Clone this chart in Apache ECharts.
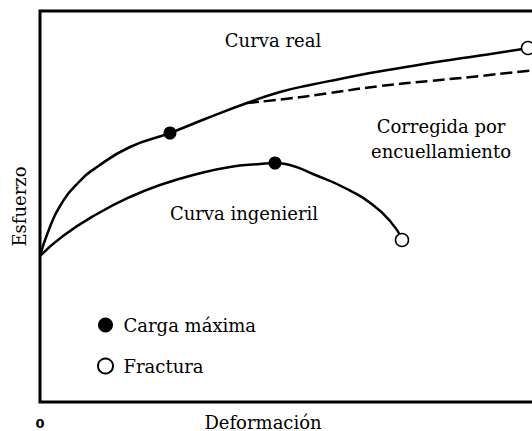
<!DOCTYPE html>
<html>
<head>
<meta charset="utf-8">
<script src="https://cdn.jsdelivr.net/npm/echarts@6/dist/echarts.min.js"></script>
<style>
  html, body { margin: 0; padding: 0; background: #fff; }
  #chart { width: 532px; height: 431px; }
</style>
</head>
<body>
<div id="chart"></div>
<script>
// valores (deformación, esfuerzo) en unidades arbitrarias
const curvaReal = [[0, 146], [8, 170], [20, 196], [38, 219], [57, 235], [90, 255], [130, 269], [165, 283], [207, 299], [240, 310], [270, 317], [300, 323], [330, 329], [360, 334], [390, 339], [423, 344], [457, 349], [488, 354]]
const curvaCorregida = [[207, 299], [245, 303], [290, 309], [340, 316], [390, 321], [440, 326], [495, 332]]
const curvaIngenieril = [[0, 146], [23, 166], [57, 188], [90, 205], [123, 218], [157, 228], [190, 235], [220, 238], [235, 239], [250, 237], [273, 228], [307, 213], [333, 197], [350, 181], [362, 164]]
const cargaMaxima = [[130, 269], [235, 239]]
const fractura = [[488, 354], [362, 162]]
const xTicks = [0]
const notas = [
  { name: 'Curva real', value: [233, 362] },
  { name: 'Corregida por\nencuellamiento', value: [401, 263] },
  { name: 'Curva ingenieril', value: [204, 189] }
]

const serif = 'DejaVu Serif'
const chart = echarts.init(document.getElementById('chart'), null, { renderer: 'svg' })

const lineBase = {
  type: 'line',
  smooth: true,
  showSymbol: false,
  silent: true,
  z: 2
}

chart.setOption({
  animation: false,
  backgroundColor: '#fff',
  textStyle: { fontFamily: serif, color: '#000' },
  grid: {
    left: 40,
    top: 11,
    right: -8,
    bottom: 29,
    outerBoundsMode: 'none',
    containLabel: false,
    show: true,
    borderColor: '#000',
    borderWidth: 3
  },
  legend: {
    data: ['Carga máxima', 'Fractura'],
    orient: 'vertical',
    left: 92,
    top: 311,
    itemWidth: 26,
    itemHeight: 15,
    itemGap: 23,
    itemStyle: { opacity: 1 },
    textStyle: { fontFamily: serif, fontSize: 18, color: '#000' }
  },
  xAxis: {
    type: 'value',
    min: 0,
    max: 500,
    interval: 500,
    name: 'Deformación',
    nameLocation: 'middle',
    nameGap: 11,
    nameMoveOverlap: false,
    nameTextStyle: { fontFamily: serif, fontSize: 18, color: '#000', padding: [0, 54, 0, 0] },
    axisLine: { show: false },
    axisTick: { show: false },
    splitLine: { show: false },
    axisLabel: {
      showMaxLabel: false,
      formatter: v => (xTicks.includes(v) ? String(v) : ''),
      margin: 15,
      fontFamily: 'DejaVu Sans',
      fontWeight: 'bold',
      fontSize: 13,
      color: '#000'
    }
  },
  yAxis: {
    type: 'value',
    min: 0,
    max: 391,
    name: 'Esfuerzo',
    nameLocation: 'middle',
    nameGap: 12,
    nameTextStyle: { fontFamily: serif, fontSize: 18, color: '#000' },
    axisLine: { show: false },
    axisTick: { show: false },
    splitLine: { show: false },
    axisLabel: { show: false }
  },
  series: [
    {
      ...lineBase,
      name: 'Curva real',
      data: curvaReal,
      lineStyle: { color: '#000', width: 2.5 }
    },
    {
      ...lineBase,
      name: 'Corregida por encuellamiento',
      data: curvaCorregida,
      lineStyle: { color: '#000', width: 2.5, type: [12, 5] }
    },
    {
      ...lineBase,
      name: 'Curva ingenieril',
      data: curvaIngenieril,
      lineStyle: { color: '#000', width: 2.5 }
    },
    {
      type: 'scatter',
      name: 'Carga máxima',
      data: cargaMaxima,
      symbol: 'circle',
      symbolSize: 13,
      itemStyle: { color: '#000', opacity: 1 },
      z: 5
    },
    {
      type: 'scatter',
      name: 'Fractura',
      data: fractura,
      symbol: 'circle',
      symbolSize: 13,
      itemStyle: { color: '#fff', borderColor: '#000', borderWidth: 1.5, opacity: 1 },
      z: 5
    },
    {
      type: 'scatter',
      name: 'notas',
      data: notas,
      symbolSize: 0,
      silent: true,
      itemStyle: { opacity: 1 },
      label: {
        show: true,
        position: 'inside',
        formatter: p => p.name,
        fontFamily: serif,
        fontSize: 18,
        lineHeight: 25,
        color: '#000',
        opacity: 1,
        align: 'center'
      }
    }
  ]
})
</script>
</body>
</html>
